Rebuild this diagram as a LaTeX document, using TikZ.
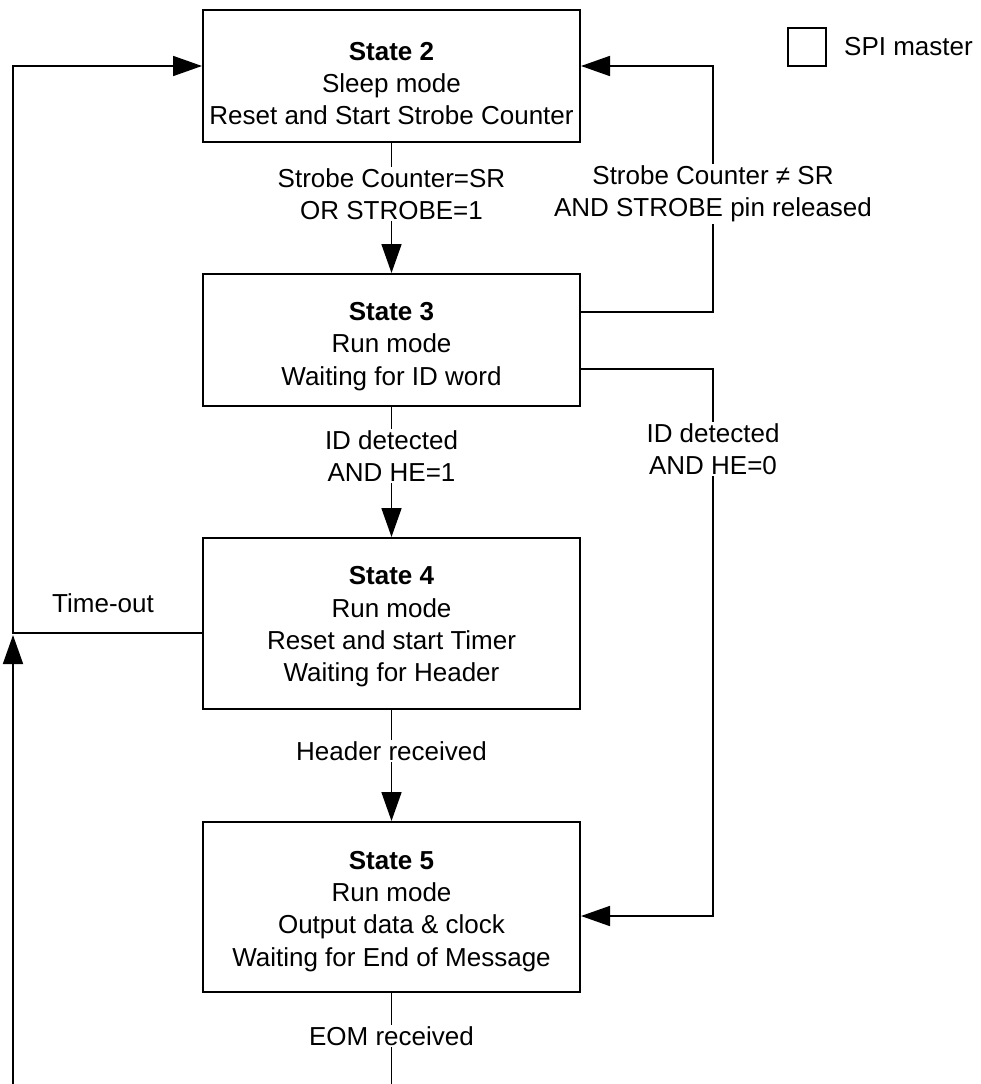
\documentclass[tikz,border=0pt]{standalone}
\usepackage{fontspec}
\setmainfont{Liberation Sans}
\usetikzlibrary{arrows.meta,calc}
\newcommand{\firstlift}[1]{\rule{0pt}{#1}}
\begin{document}
\begin{tikzpicture}[x=1pt,y=-1pt,
  every node/.style={font=\fontsize{26}{32.3}\selectfont},
  statebox/.style={draw,line width=2pt,minimum width=377pt,align=center,inner sep=0pt},
  conn/.style={line width=1.7pt},
  arr/.style={conn,-{Triangle[length=29pt,width=20pt]}},
  lbl/.style={fill=white,align=center,inner sep=1.5pt}]
\useasboundingbox (0,0) rectangle (981,1084);
% states
\node[statebox,minimum height=132pt] (s2) at (391.5,76) {\firstlift{33pt}\textbf{State 2}\\Sleep mode\\Reset and Start Strobe Counter};
\node[statebox,minimum height=132pt] (s3) at (391.5,340) {\firstlift{31pt}\textbf{State 3}\\Run mode\\Waiting for ID word};
\node[statebox,minimum height=171pt] (s4) at (391.5,623.5) {\firstlift{25pt}\textbf{State 4}\\Run mode\\Reset and start Timer\\Waiting for Header};
\node[statebox,minimum height=170pt] (s5) at (391.5,907) {\firstlift{27pt}\textbf{State 5}\\Run mode\\Output data \& clock\\Waiting for End of Message};
% legend
\node[draw,line width=1.6pt,minimum width=38pt,minimum height=38pt,inner sep=0pt] (leg) at (807,47) {};
\node[anchor=west,inner sep=0pt] (legt) at (844,47) {SPI master};
% helper coordinates
\coordinate (y66) at (0,66);
\coordinate (y312) at (0,312);
\coordinate (y369) at (0,369);
\coordinate (y633) at (0,633);
\coordinate (y916) at (0,916);
\coordinate (rx) at (713,0);
\coordinate (lx) at (13,0);
\coordinate (bl) at (13,1084);
\coordinate (bm) at (391.5,1084);
\coordinate (tj) at (13,635);
% connectors
\draw[arr] (s2.south) -- (s3.north);
\draw[arr] (s3.east |- y312) -- (rx |- y312) -- (rx |- y66) -- (s2.east |- y66);
\draw[arr] (s3.south) -- (s4.north);
\draw[arr] (s3.east |- y369) -- (rx |- y369) -- (rx |- y916) -- (s5.east |- y916);
\draw[arr] (s4.south) -- (s5.north);
\draw[arr] (s4.west |- y633) -- (lx |- y633) -- (lx |- y66) -- (s2.west |- y66);
\draw[arr] (bl) -- (tj);
\draw[conn] (s5.south) -- (bm);
% labels
\node[lbl] (l1) at (391.5,194) {Strobe Counter=SR\\OR STROBE=1};
\node[lbl] (l2) at (713,194) {Strobe Counter ≠ SR\\AND STROBE pin released};
\node[lbl] (l3) at (391.5,456) {ID detected\\AND HE=1};
\node[lbl] (l4) at (713,449) {ID detected\\AND HE=0};
\node[lbl] (l5) at (391.5,751) {Header received};
\node[lbl] (l6) at (391.5,1036) {EOM received};
\node[inner sep=0pt] (l7) at (103,603) {Time-out};
\end{tikzpicture}
\end{document}
